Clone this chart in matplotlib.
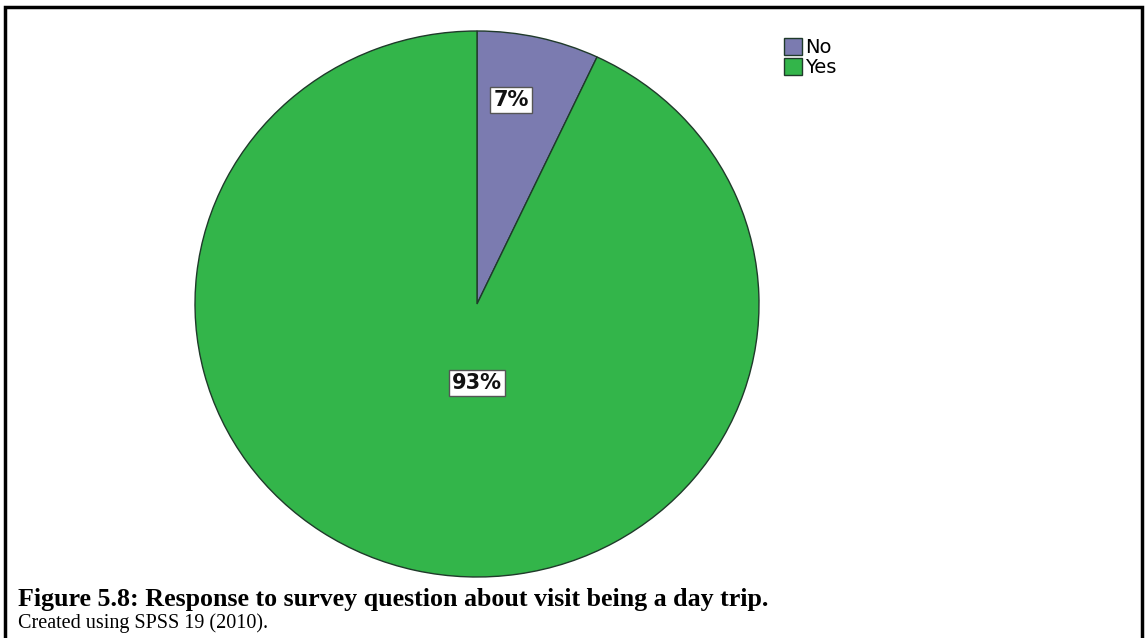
import matplotlib.pyplot as plt
from matplotlib.patches import Rectangle

labels = ['No', 'Yes']
shares = [7, 93]
pct_text = ['7%', '93%']
colors = ['#7b7bb0', '#33b54a']

caption = 'Figure 5.8: Response to survey question about visit being a day trip.'
source = 'Created using SPSS 19 (2010).'

W, H = 1146, 638
fig = plt.figure(figsize=(W / 100, H / 100), dpi=100)

# outer frame of the figure box
fig.patches.append(Rectangle((5 / W, -0.05), 1137 / W, 1.05 - 7 / H, transform=fig.transFigure,
                             fill=False, edgecolor='black', linewidth=2.5))

cx, cy, rx, ry = 477, 304, 282, 273
ax = fig.add_axes([(cx - rx) / W, 1 - (cy + ry) / H, 2 * rx / W, 2 * ry / H])
wedges, _ = ax.pie(shares, colors=colors, startangle=90, counterclock=False,
                   wedgeprops=dict(edgecolor='#1f3a2a', linewidth=1.0))
ax.set_aspect('auto')
ax.set_xlim(-1, 1)
ax.set_ylim(-1, 1)
ax.axis('off')

label_pos = [((511 - cx) / rx, (cy - 100) / ry), ((477 - cx) / rx, (cy - 383) / ry)]
for (x, y), t in zip(label_pos, pct_text):
    ax.text(x, y, t, ha='center', va='center', fontsize=15, fontweight='bold', color='#111111',
            family='DejaVu Sans',
            bbox=dict(boxstyle='square,pad=0.15', facecolor='white', edgecolor='#555555', linewidth=1))

leg = fig.legend(wedges, labels, loc='upper left', bbox_to_anchor=(776 / W, 1 - 30 / H),
                 frameon=False, fontsize=14, handlelength=0.95, handleheight=0.95,
                 handletextpad=0.15, labelspacing=0.05, borderaxespad=0)

fig.text(18 / W, 1 - 606 / H, caption, ha='left', va='baseline', fontsize=18.7,
         fontweight='bold', family='Liberation Serif')
fig.text(18 / W, 1 - 628 / H, source, ha='left', va='baseline', fontsize=14.5,
         family='Liberation Serif')

fig.savefig('out.png', dpi=100)
